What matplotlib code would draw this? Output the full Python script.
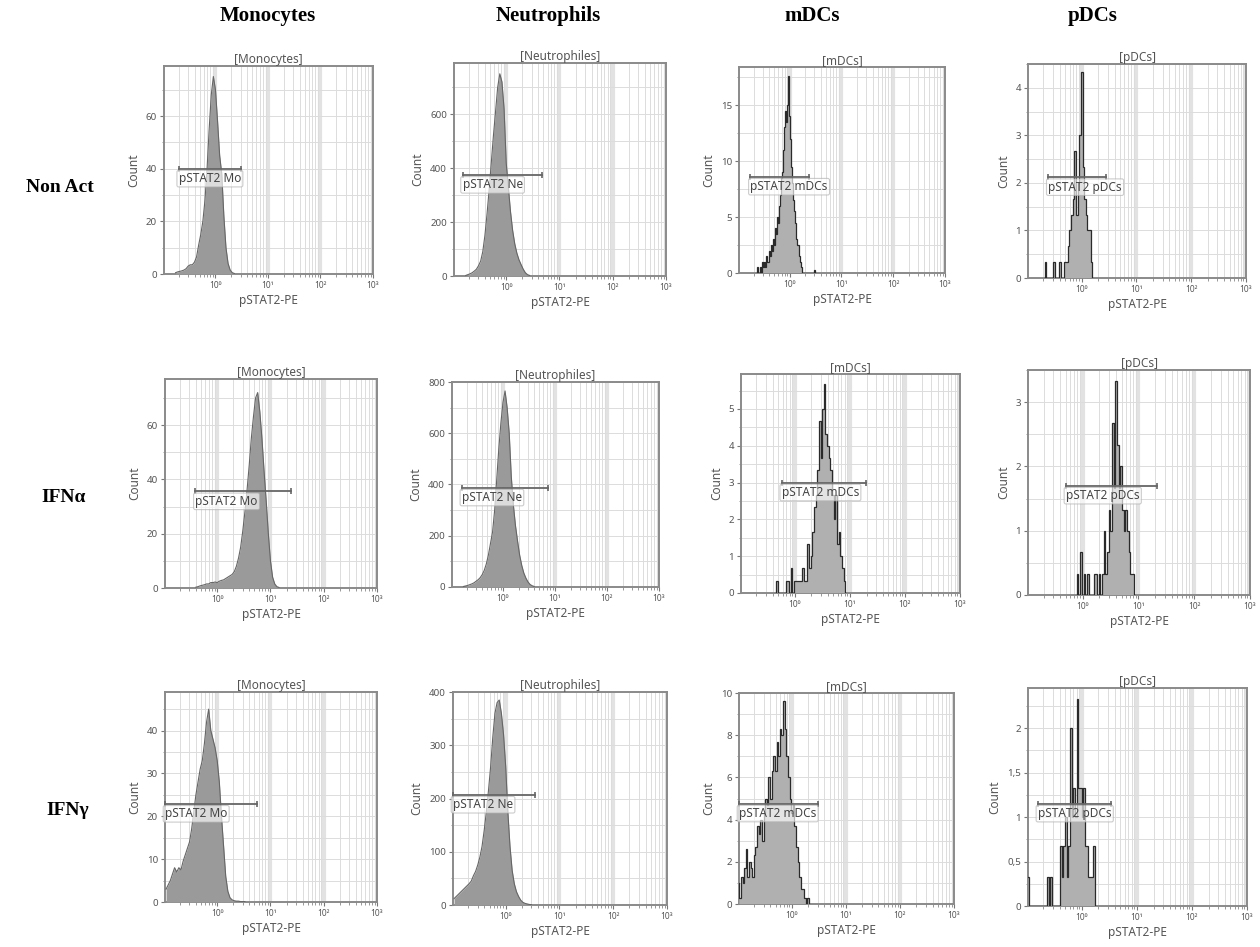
import matplotlib.pyplot as plt
import matplotlib.ticker as mticker
import numpy as np

W, H = 1260, 947

cell_types = ['Monocytes', 'Neutrophils', 'mDCs', 'pDCs']
conditions = ['Non Act', 'IFNα', 'IFNγ']
panel_titles = ['[Monocytes]', '[Neutrophiles]', '[mDCs]', '[pDCs]']
gate_names = ['pSTAT2 Mo', 'pSTAT2 Ne', 'pSTAT2 mDCs', 'pSTAT2 pDCs']
x_ticks = [1, 10, 100, 1000]
x_tick_labels = ['10⁰', '10¹', '10²', '10³']

# histograms: log10 of first bin centre, bin width in decades, counts per bin
# --- Non Act
mono_na_start, mono_na_step = -0.76, 0.04
mono_na = [0.5, 0.8, 1, 1.2, 1.5, 2, 3, 3.5, 3.5, 4.5, 6.5, 11, 15, 20, 28, 40, 55, 68, 75,
           70, 58, 45, 38, 22, 10, 4, 1.5, 0.5, 0.2]
neu_na_start, neu_na_step = -0.76, 0.04
neu_na = [2, 5, 8, 12, 18, 25, 38, 55, 90, 150, 230, 320, 420, 520, 610, 700, 750, 720, 620,
          420, 330, 240, 170, 120, 85, 60, 42, 25, 12, 5, 2]
mdc_na_start, mdc_na_step = -0.64, 0.02
mdc_na = [0, 0.5, 0, 0, 0.5, 0, 1, 0.5, 1, 0.5, 1.5, 1, 2, 1.5, 2.5, 2, 3, 2.5, 4, 3.5, 5, 4.5,
          6, 7, 8.5, 9, 11, 13, 14.5, 13.5, 15, 17.6, 14, 12, 9.5, 8, 6.5, 5.5, 4.5, 3, 2.5, 1.5,
          1, 0.5, 0, 0, 0, 0, 0, 0, 0, 0, 0, 0, 0, 0, 0.3, 0]
pdc_na_start, pdc_na_step = -0.66, 0.03
pdc_na = [0.33, 0, 0, 0, 0, 0.33, 0, 0, 0, 0.33, 0, 0, 0.33, 0.33, 0.67, 1.0, 1.33, 1.67, 2.67,
          1.33, 2.0, 3.0, 4.33, 2.33, 1.67, 1.33, 1.0, 1.0, 0.33]
# --- IFNa
mono_a_start, mono_a_step = -0.40, 0.04
mono_a = [0.3, 0.5, 0.8, 1, 1.2, 1.5, 1.5, 2, 2, 2.2, 2, 2.5, 2.8, 3, 3.5, 4, 4.5, 5, 6, 8, 11,
          15, 21, 28, 36, 45, 55, 63, 70, 72, 65, 55, 43, 32, 20, 10, 4, 1.5, 0.5, 0.2]
neu_a_start, neu_a_step = -0.76, 0.04
neu_a = [2, 4, 6, 9, 12, 16, 22, 28, 36, 48, 65, 90, 125, 170, 215, 300, 420, 540, 640, 720,
         765, 700, 600, 430, 320, 240, 180, 125, 85, 55, 35, 20, 10, 5, 2]
mdc_a_start, mdc_a_step = -0.33, 0.03
mdc_a = [0.33, 0, 0, 0, 0, 0, 0.33, 0.33, 0, 0.67, 0, 0.33, 0.33, 0.33, 0.33, 0.33, 0.67, 0.33,
         0.33, 1.33, 0.67, 1.0, 1.67, 2.33, 2.67, 3.33, 4.67, 3.67, 5.0, 5.67, 4.33, 4.0, 3.67,
         3.33, 2.67, 2.0, 2.67, 1.33, 1.67, 1.0, 0.67, 0.33]
pdc_a_start, pdc_a_step = -0.09, 0.03
pdc_a = [0.33, 0, 0.67, 0, 0.33, 0, 0.33, 0, 0, 0, 0.33, 0.33, 0, 0.33, 0, 0.33, 1.0, 0.33,
         0.67, 1.33, 1.0, 2.67, 1.67, 3.33, 2.33, 1.67, 2.0, 1.33, 1.0, 1.33, 1.0, 0.67, 0.33, 0.33]
# --- IFNg
mono_g_start, mono_g_step = -0.96, 0.04
mono_g = [3, 4, 5, 6.5, 8, 7, 8, 7.5, 9.5, 11, 12.5, 14, 17, 21, 25, 28, 31, 33, 37, 42, 45,
          40, 38, 36, 33, 28, 20, 13, 6, 2.5, 1, 0.5, 0.3, 0.2, 0.2, 0.1, 0.1, 0.1]
neu_g_start, neu_g_step = -0.96, 0.04
neu_g = [12, 16, 20, 24, 28, 32, 36, 40, 45, 55, 63, 75, 90, 110, 140, 175, 215, 260, 315, 360,
         380, 385, 360, 320, 260, 175, 110, 65, 40, 25, 16, 9, 5, 3, 2, 1, 0.5]
mdc_g_start, mdc_g_step = -0.99, 0.03
mdc_g = [1.0, 0.3, 1.3, 1.0, 1.7, 2.6, 1.3, 2.0, 1.7, 1.3, 2.3, 2.7, 3.7, 3.3, 4.0, 3.0, 4.3,
         5.0, 4.7, 6.0, 5.0, 6.3, 7.0, 6.3, 7.7, 7.0, 8.3, 8.0, 9.6, 8.3, 7.0, 6.0, 5.0, 4.3,
         4.7, 3.7, 2.7, 2.0, 1.3, 0.7, 0.7, 0.3, 0, 0.3]
pdc_g_start, pdc_g_step = -0.98, 0.03
pdc_g = [0.33, 0, 0, 0, 0, 0, 0, 0, 0, 0, 0, 0, 0.33, 0, 0.33, 0, 0, 0, 0, 0, 0.67, 0.33, 0.67,
         1.0, 0.33, 0.67, 2.0, 1.0, 1.33, 1.0, 2.33, 1.33, 1.33, 1.0, 1.33, 0.67, 0.67, 0.33,
         0.33, 0.33, 0.67]

# gates: count level, log10 of left and right end (None = axis edge)
gate_y = [[40, 375, 8.6, 2.12], [35.6, 388, 3.0, 1.7], [22.9, 207, 4.76, 1.15]]
gate_lo = [[-0.70, -0.82, -0.76, -0.61], [-0.41, -0.79, -0.24, -0.30], [None, None, None, -0.80]]
gate_hi = [[0.49, 0.67, 0.37, 0.45], [1.38, 0.87, 1.30, 1.34], [0.74, 0.55, 0.49, 0.53]]

y_max = [[79, 790, 18.4, 4.5], [77, 800, 5.95, 3.5], [49, 400, 10, 2.45]]
y_step = [[20, 200, 5, 1], [20, 200, 1, 1], [10, 100, 2, 0.5]]

hists = [
    [(mono_na_start, mono_na_step, mono_na), (neu_na_start, neu_na_step, neu_na),
     (mdc_na_start, mdc_na_step, mdc_na), (pdc_na_start, pdc_na_step, pdc_na)],
    [(mono_a_start, mono_a_step, mono_a), (neu_a_start, neu_a_step, neu_a),
     (mdc_a_start, mdc_a_step, mdc_a), (pdc_a_start, pdc_a_step, pdc_a)],
    [(mono_g_start, mono_g_step, mono_g), (neu_g_start, neu_g_step, neu_g),
     (mdc_g_start, mdc_g_step, mdc_g), (pdc_g_start, pdc_g_step, pdc_g)],
]

# panel boxes in pixels: left, right, top, bottom
boxes = [
    [(164, 373, 66, 274), (454, 666, 63, 276), (739, 945, 67, 273), (1028, 1246, 64, 278)],
    [(165, 377, 379, 588), (452, 659, 382, 587), (741, 960, 374, 593), (1028, 1250, 370, 595)],
    [(165, 377, 692, 902), (453, 667, 692, 905), (739, 954, 693, 904), (1028, 1247, 688, 906)],
]

x_left = 10 ** -0.98
sans = ['Noto Sans', 'DejaVu Sans']
txt = '#555555'

fig = plt.figure(figsize=(W / 100, H / 100), dpi=100)

for r in range(3):
    for c in range(4):
        l, rr, t, b = boxes[r][c]
        ax = fig.add_axes([l / W, 1 - b / H, (rr - l) / W, (b - t) / H])
        start, step, counts = hists[r][c]
        counts = np.array(counts, dtype=float)
        centres = start + step * np.arange(len(counts))
        if c < 2:
            # dense, smooth histograms: outline through the bin centres
            xs = 10 ** centres
            ax.fill_between(xs, counts, 0, color='#9a9a9a', lw=0, zorder=3)
            ax.plot(xs, counts, color='#666666', lw=0.8, zorder=4)
        else:
            edges = 10 ** np.append(centres - step / 2, centres[-1] + step / 2)
            ax.stairs(counts, edges, fill=True, color='#b0b0b0', zorder=3)
            ax.stairs(counts, edges, color='#2a2a2a', lw=0.9, zorder=4)

        ax.set_xscale('log')
        ax.set_xlim(x_left, 1000)
        ax.set_ylim(0, y_max[r][c])
        ax.set_xticks(x_ticks)
        ax.set_xticklabels(x_tick_labels, fontsize=6.5, color=txt, family=sans)
        ax.xaxis.set_minor_locator(mticker.LogLocator(base=10, subs=np.arange(2, 10)))
        ax.xaxis.set_minor_formatter(mticker.NullFormatter())
        ax.yaxis.set_major_locator(mticker.MultipleLocator(y_step[r][c]))
        ax.yaxis.set_minor_locator(mticker.AutoMinorLocator(2))
        if c == 3 and r == 2:
            ax.yaxis.set_major_formatter(mticker.FuncFormatter(
                lambda v, p: ('%g' % v).replace('.', ',')))
        for lab in ax.get_yticklabels():
            lab.set_family(sans)
        ax.tick_params(axis='both', which='major', length=3, width=0.8, color='#777777',
                       labelsize=7, labelcolor=txt, pad=2)
        ax.tick_params(axis='x', labelsize=6)
        ax.tick_params(axis='both', which='minor', length=1.8, width=0.6, color='#888888')

        ax.grid(True, which='minor', axis='x', color='#dcdcdc', lw=0.7, zorder=0)
        ax.grid(True, which='major', axis='x', color='#e2e2e2', lw=3, zorder=0)
        ax.grid(True, which='both', axis='y', color='#dcdcdc', lw=0.7, zorder=0)
        ax.set_axisbelow(True)
        for s in ax.spines.values():
            s.set_color('#8a8a8a')
            s.set_linewidth(1.4)

        ax.set_title(panel_titles[c], fontsize=8.5, color=txt, family=sans, pad=2)
        ax.set_xlabel('pSTAT2-PE', fontsize=8.5, color=txt, family=sans, labelpad=3)
        ax.set_ylabel('Count', fontsize=8.5, color=txt, family=sans, labelpad=4)

        # gate
        gy = gate_y[r][c]
        g0 = x_left if gate_lo[r][c] is None else 10 ** gate_lo[r][c]
        g1 = 10 ** gate_hi[r][c]
        ax.plot([g0, g1], [gy, gy], color='#666666', lw=1.3, zorder=5, clip_on=False)
        ax.plot([g0, g1], [gy, gy], ls='none', marker='|', ms=5, mew=1.2, color='#666666',
                zorder=5, clip_on=False)
        ax.annotate(gate_names[c], xy=(g0, gy), xytext=(0, -2.5), textcoords='offset points',
                    ha='left', va='top', fontsize=8.5, color='#444444', family=sans, zorder=6,
                    bbox=dict(boxstyle='round,pad=0.15', fc='white', ec='#b0b0b0', lw=0.8,
                              alpha=0.65))

# column and row headers
head_x = [268, 548, 812, 1093]
for c in range(4):
    fig.text(head_x[c] / W, 1 - 16 / H, cell_types[c], ha='center', va='center',
             fontsize=15, fontweight='bold', family='Liberation Serif')
row_y = [187, 497, 810]
row_x = [60, 64, 68]
for r in range(3):
    fig.text(row_x[r] / W, 1 - row_y[r] / H, conditions[r], ha='center', va='center',
             fontsize=14, fontweight='bold', family='Liberation Serif')

fig.savefig('out.png', dpi=100)
